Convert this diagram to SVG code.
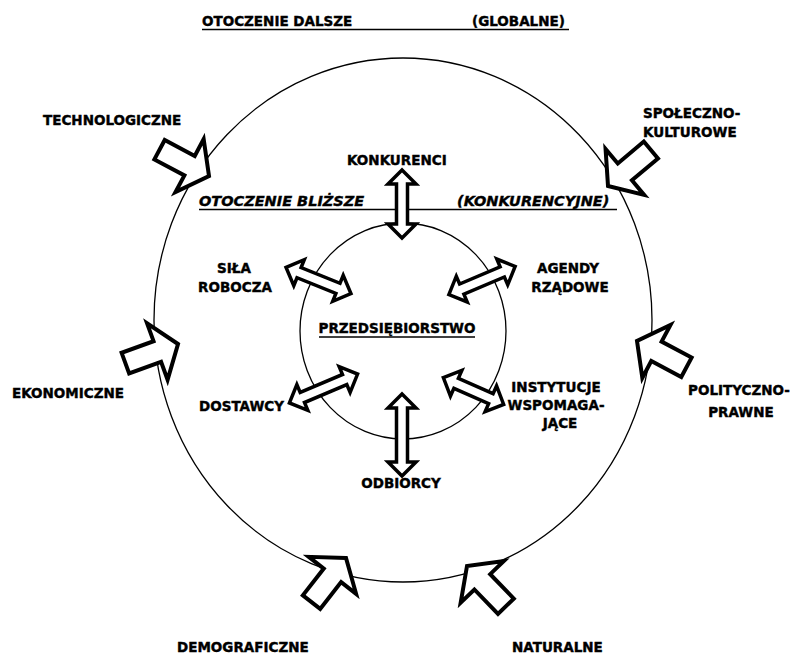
<svg xmlns="http://www.w3.org/2000/svg" xmlns:xlink="http://www.w3.org/1999/xlink" width="793" height="654" viewBox="0 0 793 654">
  <style>
    .lbl { font-family: 'DejaVu Sans', 'Liberation Sans', sans-serif; font-weight: bold; font-size: 13.5px; fill: #000; stroke: #000; stroke-width: 0.4; }
    .mid { text-anchor: middle; }
    .ital { font-style: italic; font-size: 14.5px; }
    .ring { fill: none; stroke: #000; stroke-width: 1.3; }
    .rule { stroke: #000; stroke-width: 1.6; }
    .force { fill: #fff; stroke: #000; stroke-width: 4; stroke-linejoin: miter; stroke-miterlimit: 6; }
    .link { fill: #fff; stroke: #000; stroke-width: 3.5; stroke-linejoin: miter; stroke-miterlimit: 6; }
  </style>
  <defs>
    <!-- inward block arrow, tip at the origin, pointing along +x -->
    <path id="forceArrow" d="M0,0 L-22,-30 L-22,-11 L-56,-11 L-56,11 L-22,11 L-22,30 Z"/>
  </defs>

  <rect width="793" height="654" fill="#fff"/>

  <!-- environment rings -->
  <g id="rings">
    <ellipse class="ring" cx="403" cy="320" rx="249" ry="262"/>
    <ellipse class="ring" cx="403" cy="331" rx="103" ry="108"/>
  </g>

  <!-- zone headings -->
  <g id="zone-global">
    <text class="lbl" x="202" y="26">OTOCZENIE DALSZE</text>
    <text class="lbl" x="472" y="26">(GLOBALNE)</text>
    <line class="rule" x1="202" y1="29.5" x2="569" y2="29.5"/>
  </g>
  <g id="zone-competitive">
    <text class="lbl ital" x="199" y="206">OTOCZENIE BLIŻSZE</text>
    <text class="lbl ital" x="457" y="206">(KONKURENCYJNE)</text>
    <line class="rule" x1="199" y1="209.5" x2="617" y2="209.5"/>
  </g>

  <!-- arrows -->
  <g id="connectors">
    <!-- outer forces -->
    <use xlink:href="#forceArrow" class="force" transform="translate(209,176) rotate(28)"/>
    <use xlink:href="#forceArrow" class="force" transform="translate(608,186) rotate(140)"/>
    <use xlink:href="#forceArrow" class="force" transform="translate(178,344) rotate(-20)"/>
    <use xlink:href="#forceArrow" class="force" transform="translate(637,341) rotate(-152)"/>
    <use xlink:href="#forceArrow" class="force" transform="translate(346,558) rotate(-52)"/>
    <use xlink:href="#forceArrow" class="force" transform="translate(467,566) rotate(-134)"/>
    <!-- two-way links around the firm -->
    <path class="link" transform="translate(402,204) rotate(90)" d="M-34,0 L-20,-14 L-20,-5.5 L20,-5.5 L20,-14 L34,0 L20,14 L20,5.5 L-20,5.5 L-20,14 Z"/>
    <path class="link" transform="translate(402,435) rotate(90)" d="M-41,0 L-27,-14 L-27,-5.5 L27,-5.5 L27,-14 L41,0 L27,14 L27,5.5 L-27,5.5 L-27,14 Z"/>
    <path class="link" transform="translate(318.5,280.5) rotate(22)" d="M-35,0 L-21,-14 L-21,-5.5 L21,-5.5 L21,-14 L35,0 L21,14 L21,5.5 L-21,5.5 L-21,14 Z"/>
    <path class="link" transform="translate(482,280.5) rotate(-23)" d="M-36,0 L-22,-14 L-22,-5.5 L22,-5.5 L22,-14 L36,0 L22,14 L22,5.5 L-22,5.5 L-22,14 Z"/>
    <path class="link" transform="translate(323.5,388.5) rotate(-23)" d="M-37,0 L-23,-14 L-23,-5.5 L23,-5.5 L23,-14 L37,0 L23,14 L23,5.5 L-23,5.5 L-23,14 Z"/>
    <path class="link" transform="translate(473.5,391) rotate(24)" d="M-33,0 L-19,-14 L-19,-5.5 L19,-5.5 L19,-14 L33,0 L19,14 L19,5.5 L-19,5.5 L-19,14 Z"/>
  </g>

  <!-- outer forces -->
  <g id="technologiczne"><text class="lbl" x="43" y="125">TECHNOLOGICZNE</text></g>
  <g id="spoleczno-kulturowe">
    <text class="lbl" x="643" y="118">SPOŁECZNO-</text>
    <text class="lbl" x="643" y="137">KULTUROWE</text>
  </g>
  <g id="ekonomiczne"><text class="lbl" x="12" y="398" font-size="12.5">EKONOMICZNE</text></g>
  <g id="polityczno-prawne">
    <text class="lbl mid" x="739" y="395">POLITYCZNO-</text>
    <text class="lbl mid" x="741" y="417">PRAWNE</text>
  </g>
  <g id="demograficzne"><text class="lbl" x="177" y="652">DEMOGRAFICZNE</text></g>
  <g id="naturalne"><text class="lbl" x="512" y="652">NATURALNE</text></g>

  <!-- competitive environment -->
  <g id="konkurenci"><text class="lbl" x="347" y="165">KONKURENCI</text></g>
  <g id="sila-robocza">
    <text class="lbl mid" x="234" y="273">SIŁA</text>
    <text class="lbl mid" x="235" y="292">ROBOCZA</text>
  </g>
  <g id="agendy-rzadowe">
    <text class="lbl mid" x="568" y="273">AGENDY</text>
    <text class="lbl mid" x="570" y="292">RZĄDOWE</text>
  </g>
  <g id="dostawcy"><text class="lbl" x="199" y="411">DOSTAWCY</text></g>
  <g id="instytucje-wspomagajace">
    <text class="lbl mid" x="556" y="392">INSTYTUCJE</text>
    <text class="lbl mid" x="556" y="410">WSPOMAGA-</text>
    <text class="lbl mid" x="560" y="428">JĄCE</text>
  </g>
  <g id="odbiorcy"><text class="lbl mid" x="401" y="488">ODBIORCY</text></g>

  <!-- the firm -->
  <g id="przedsiebiorstwo">
    <text class="lbl mid" x="397" y="333" font-size="12.5">PRZEDSIĘBIORSTWO</text>
    <line x1="319" y1="337" x2="475" y2="337" stroke="#000" stroke-width="1.3"/>
  </g>
</svg>
